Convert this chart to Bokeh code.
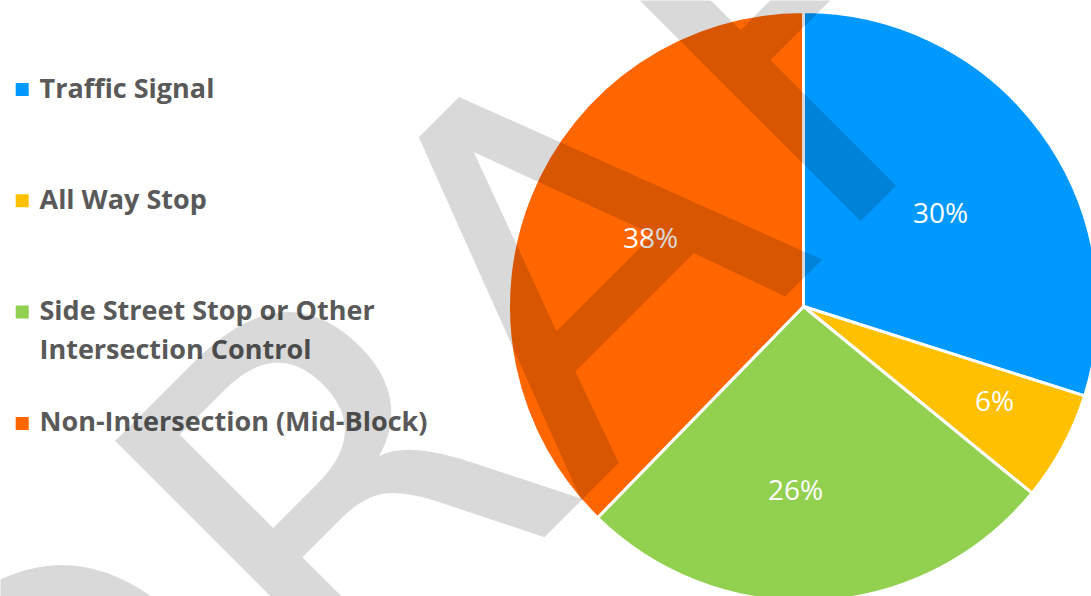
import math
from bokeh.plotting import figure
from bokeh.models import Range1d, ColumnDataSource
from bokeh.core.properties import value
from bokeh.embed import file_html
from bokeh.resources import INLINE

# ---- data ----
categories = ["Traffic Signal", "All Way Stop",
              "Side Street Stop or Other\nIntersection Control",
              "Non-Intersection (Mid-Block)"]
shares = [29.9, 6.0, 26.4, 37.7]
colors = ["#0099FF", "#FFC000", "#92D050", "#FF6600"]
watermark = "DRAFT"

# ---- layout ----
W, H = 1091, 596
p = figure(width=W, height=H, x_range=Range1d(0, W), y_range=Range1d(0, H),
           output_backend="svg", toolbar_location=None, min_border=0)
p.axis.visible = False
p.grid.visible = False
p.outline_line_color = None
p.background_fill_color = "white"
p.border_fill_color = "white"


def sx(x):
    return x


def sy(y):
    return H - y


cx, cy, R = sx(803), sy(306), 295

total = float(sum(shares))
starts, ends, mids = [], [], []
a = math.pi / 2
for s in shares:
    sweep = 2 * math.pi * s / total
    starts.append(a)
    ends.append(a - sweep)
    mids.append(a - sweep / 2)
    a -= sweep

src = ColumnDataSource(dict(start=starts, end=ends, color=colors))
p.wedge(x=cx, y=cy, radius=R, start_angle="start", end_angle="end",
        direction="clock", fill_color="color", line_color="white",
        line_width=3, source=src)

# data labels (placement tweaks: angle offset in degrees, radius fraction)
label_da = [-2.0, 2.0, -5.7, -1.7]
label_r = [0.562, 0.723, 0.624, 0.567]
lx, ly = [], []
for m, da, f in zip(mids, label_da, label_r):
    ang = m + math.radians(da)
    lx.append(cx + f * R * math.cos(ang))
    ly.append(cy + f * R * math.sin(ang) + 1.7)
p.text(x=lx, y=ly, text=[f"{round(s)}%" for s in shares], text_color="white",
       text_font=value("Open Sans"), text_font_size="28px",
       text_align="center", text_baseline="alphabetic")

# legend (manual)
leg_sy = [89 + i * 111.3 for i in range(len(categories))]
p.scatter(x=[sx(21.7)] * len(categories), y=[sy(v) for v in leg_sy],
          marker="square", size=13, fill_color=colors, line_color=None)
tx, ty, tt = [], [], []
for yc, cat in zip(leg_sy, categories):
    for j, line in enumerate(cat.split("\n")):
        tx.append(sx(39))
        ty.append(sy(yc - 2.5 + j * 39))
        tt.append(line)
p.text(x=tx, y=ty, text=tt, text_color="#595959",
       text_font=value("Open Sans"), text_font_size="27px",
       text_font_style="bold", text_align="left", text_baseline="alphabetic")

# watermark
p.text(x=[sx(530.4)], y=[sy(300.8)], text=[watermark], angle=math.pi / 4,
       text_color="black", text_alpha=0.15, text_font=value("DejaVu Sans"),
       text_font_size="510px", text_align="center", text_baseline="alphabetic")

open("out.html", "w").write(file_html(p, INLINE))
